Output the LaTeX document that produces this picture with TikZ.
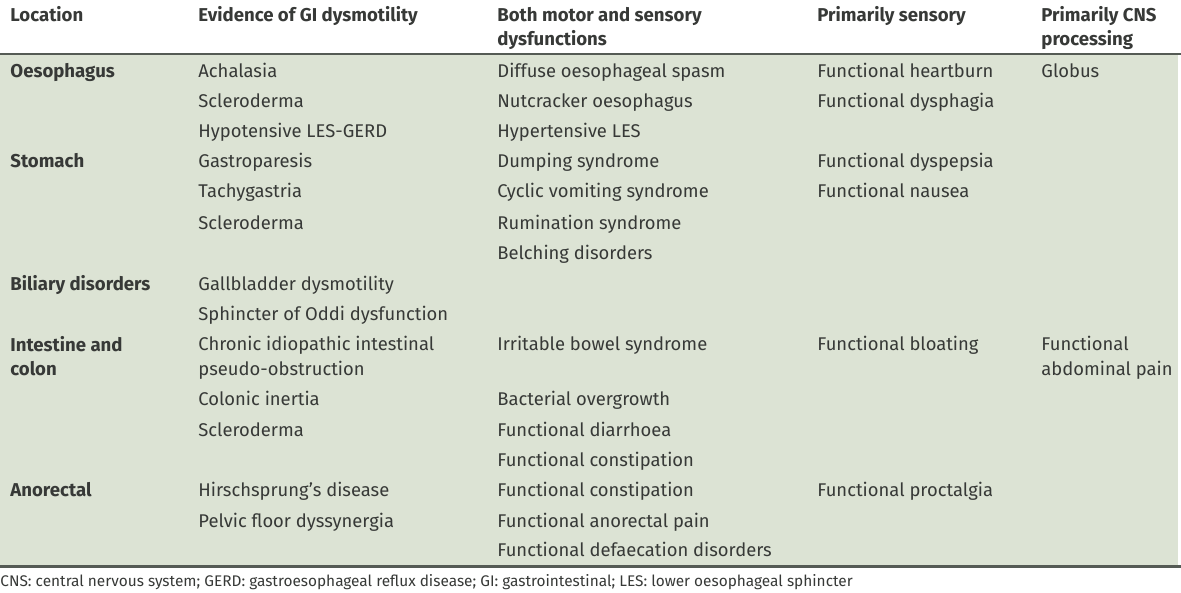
\documentclass[tikz,border=0pt]{standalone}
\usepackage{fontspec}
\setmainfont{Fira Sans}
\usetikzlibrary{positioning}
\definecolor{tablegreen}{RGB}{220,227,212}
\definecolor{rulegray}{RGB}{85,91,85}
\definecolor{textgray}{RGB}{55,57,55}
\tikzset{
    cell/.style={anchor=base west,inner sep=0pt,align=left,text=textgray,
      font=\fontsize{9.2}{12.5}\selectfont},
    hdr/.style={cell,font=\fontsize{9.3}{12}\selectfont\bfseries},
    note/.style={anchor=base west,inner sep=0pt,text=textgray,
      font=\fontsize{7.7}{9}\selectfont},
  }
\begin{document}
\begin{tikzpicture}[x=0.5pt,y=-0.5pt]
				  %cadre et fond
				  \useasboundingbox (0,0) rectangle (1181,593);
				  \fill[tablegreen] (0,54) rectangle (1178,566);
				  \draw[rulegray,line width=0.75pt] (0,54) -- (1181,54);
				  \draw[rulegray,line width=1.5pt] (0,566.5) -- (1181,566.5);
				  %en-tetes (texte sur deux lignes : y = ligne du bas)
				  \node[hdr] (hloc) at (10,22) {Location};
				  \node[hdr] (hgi) at (198,22) {Evidence of GI dysmotility};
				  \node[hdr] (hboth) at (497,46) {Both motor and sensory\\dysfunctions};
				  \node[hdr] (hsens) at (817,22) {Primarily sensory};
				  \node[hdr] (hcns) at (1041,46) {Primarily CNS\\processing};
				  %localisation
				  \foreach \t/\y [count=\i] in {Oesophagus/78,Stomach/168,Biliary disorders/290,
				      {Intestine and\\colon}/375,Anorectal/496}
				    \node[hdr] (loc\i) at (10,\y) {\t};
				  %dysmotilite
				  \foreach \t/\y [count=\i] in {Achalasia/78,Scleroderma/108,Hypotensive LES-GERD/138,
				      Gastroparesis/168,Tachygastria/198,Scleroderma/229,Gallbladder dysmotility/290,
				      Sphincter of Oddi dysfunction/320,{Chronic idiopathic intestinal\\pseudo-obstruction}/375,
				      Colonic inertia/405,Scleroderma/436,Hirschsprung’s disease/496,Pelvic floor dyssynergia/527}
				    \node[cell] (gi\i) at (198,\y) {\t};
				  %moteur et sensitif
				  \foreach \t/\y [count=\i] in {Diffuse oesophageal spasm/78,Nutcracker oesophagus/108,
				      Hypertensive LES/138,Dumping syndrome/168,Cyclic vomiting syndrome/198,
				      Rumination syndrome/229,Belching disorders/259,Irritable bowel syndrome/350,
				      Bacterial overgrowth/405,Functional diarrhoea/436,Functional constipation/466,
				      Functional constipation/496,Functional anorectal pain/527,Functional defaecation disorders/556}
				    \node[cell] (both\i) at (497,\y) {\t};
				  %sensitif
				  \foreach \t/\y [count=\i] in {Functional heartburn/78,Functional dysphagia/108,
				      Functional dyspepsia/168,Functional nausea/198,Functional bloating/350,Functional proctalgia/496}
				    \node[cell] (sens\i) at (817,\y) {\t};
				  %SNC
				  \node[cell] (cns1) at (1041,78) {Globus};
				  \node[cell] (cns2) at (1041,375) {Functional\\abdominal pain};
				  %note
				  \node[note] (foot) at (0,586) {CNS: central nervous system; GERD: gastroesophageal reflux disease; GI: gastrointestinal; LES: lower oesophageal sphincter};
\end{tikzpicture}
\end{document}
